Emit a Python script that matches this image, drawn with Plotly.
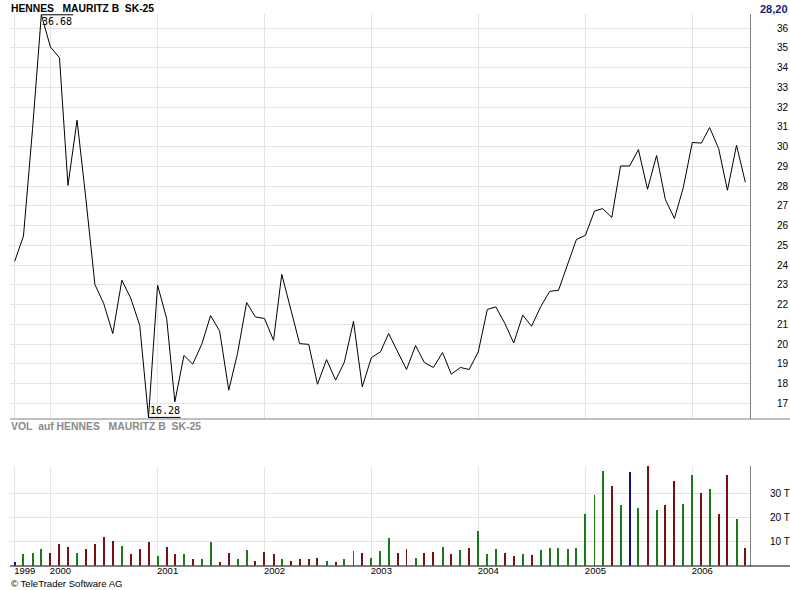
import plotly.graph_objects as go
import pandas as pd

# ---------------- data ----------------
start_month = "1999-09-01"
n_months = 83
price = [24.19, 25.47, 30.9, 36.68, 35.05, 34.5, 28.04, 31.34, 27.38, 23.01,
         22.05, 20.53, 23.23, 22.33, 20.95, 16.28, 22.98, 21.29, 17.07, 19.42,
         18.98, 19.99, 21.44, 20.65, 17.66, 19.52, 22.10, 21.37, 21.29, 20.19,
         23.53, 21.71, 20.02, 19.98, 17.96, 19.21, 18.17, 19.09, 21.15, 17.83,
         19.31, 19.60, 20.53, 19.60, 18.71, 19.92, 19.06, 18.81, 19.57, 18.47,
         18.81, 18.71, 19.60, 21.75, 21.88, 21.04, 20.05, 21.46, 20.90, 21.88,
         22.67, 22.72, 23.99, 25.29, 25.51, 26.74, 26.86, 26.41, 29.02, 29.02,
         29.85, 27.84, 29.55, 27.32, 26.36, 27.91, 30.21, 30.18, 30.97, 29.90,
         27.79, 30.07, 28.20]
volume_t = [1.4, 4.6, 5.0, 6.7, 5.0, 8.75, 7.6, 5.3, 6.7, 8.75,
            11.7, 10.0, 8.1, 4.6, 6.7, 9.7, 3.9, 7.5, 4.6, 4.6,
            2.9, 2.9, 9.6, 1.25, 5.0, 2.5, 6.4, 1.7, 5.4, 4.6,
            2.9, 1.7, 2.9, 2.9, 3.3, 1.7, 1.25, 2.5, 5.8, 5.0,
            3.3, 5.8, 11.25, 5.3, 6.7, 3.3, 5.0, 5.4, 7.5, 4.6,
            6.25, 7.1, 14.2, 4.6, 6.7, 5.0, 3.75, 4.6, 4.2, 6.25,
            7.1, 7.1, 6.7, 7.1, 21.25, 29.2, 39.2, 32.9, 25.0, 38.75,
            23.75, 41.25, 22.9, 25.0, 35.0, 25.4, 37.5, 30.0, 31.7, 21.25,
            37.5, 19.2, 7.1]
x_tick_dates = ["1999-09-01", "2000-01-01", "2001-01-01", "2002-01-01",
                "2003-01-01", "2004-01-01", "2005-01-01", "2006-01-01"]
x_tick_labels = ["1999", "2000", "2001", "2002", "2003", "2004", "2005", "2006"]
price_ticks = list(range(17, 37))
vol_ticks = [10, 20, 30]
vol_tick_labels = ["10 T", "20 T", "30 T"]
title_text = "HENNES\u00a0\u00a0 MAURITZ B\u00a0 SK-25"
vol_title_text = "VOL\u00a0 auf HENNES\u00a0\u00a0 MAURITZ B\u00a0 SK-25"
last_text = "28,20"
copyright_text = "\u00a9 TeleTrader Software AG"

dates = pd.date_range(start_month, periods=n_months, freq="MS")

# ---------------- styling ----------------
W, H = 790, 590
def px_x(p):
    return p / W
def px_y(p):
    return 1 - p / H

GREEN, RED, BLUE = "#1a7a1a", "#7a1010", "#101080"
colors = []
for i, v in enumerate(price):
    if i == 0 or v == price[i - 1]:
        colors.append(BLUE)
    elif v > price[i - 1]:
        colors.append(GREEN)
    else:
        colors.append(RED)

GRID = "#e4e4e4"
FONT = "Liberation Sans, Arial, sans-serif"

i_max = price.index(max(price))
i_min = price.index(min(price))

fig = go.Figure()
fig.add_trace(go.Scatter(x=dates, y=price, mode="lines",
                         line=dict(color="black", width=1),
                         xaxis="x", yaxis="y", hoverinfo="skip"))
fig.add_trace(go.Bar(x=dates, y=volume_t, marker=dict(color=colors, line=dict(width=0)),
                     width=2.95e8, xaxis="x2", yaxis="y2", hoverinfo="skip"))

xdom = [px_x(10), px_x(750)]
xrange = ["1999-08-16", "2006-07-17"]

fig.update_layout(
    width=W, height=H, margin=dict(l=0, r=0, t=0, b=0),
    paper_bgcolor="white", plot_bgcolor="white", showlegend=False,
    bargap=0,
    xaxis=dict(domain=xdom, range=xrange, type="date", anchor="y",
               tickvals=x_tick_dates, showticklabels=False, ticks="",
               showgrid=True, gridcolor=GRID, gridwidth=1, zeroline=False,
               showline=False),
    yaxis=dict(domain=[px_y(419), px_y(14)], range=[16.2, 36.72], side="right",
               anchor="x", tickvals=price_ticks, ticks="", showgrid=True,
               gridcolor=GRID, zeroline=False, showline=True, linecolor="#808080",
               linewidth=1, ticklabelstandoff=24,
               tickfont=dict(family=FONT, size=10, color="black")),
    xaxis2=dict(domain=xdom, range=xrange, type="date", anchor="y2", matches="x",
                tickvals=x_tick_dates, ticktext=x_tick_labels, ticks="",
                showgrid=True, gridcolor=GRID, zeroline=False, showline=False,
                ticklabelshift=10, ticklabelstandoff=-2,
                tickfont=dict(family=FONT, size=9.5, color="black")),
    yaxis2=dict(domain=[px_y(565.5), px_y(466)], range=[0, 41.2], side="right",
                anchor="x2", tickvals=vol_ticks, ticktext=vol_tick_labels, ticks="",
                showgrid=True, gridcolor=GRID, zeroline=False, showline=True,
                linecolor="#808080", linewidth=1, ticklabelstandoff=17,
                tickfont=dict(family=FONT, size=10, color="black")),
)

shapes = [
    dict(type="line", xref="paper", yref="paper", x0=px_x(10), x1=1,
         y0=px_y(419), y1=px_y(419), line=dict(color="#808080", width=1)),
    dict(type="line", xref="paper", yref="paper", x0=px_x(10), x1=1,
         y0=px_y(566), y1=px_y(566), line=dict(color="black", width=1)),
    dict(type="line", xref="x", yref="y", xsizemode="pixel", xanchor=dates[i_max],
         x0=0, x1=32, y0=price[i_max], y1=price[i_max], line=dict(color="black", width=1)),
    dict(type="line", xref="x", yref="y", xsizemode="pixel", xanchor=dates[i_min],
         x0=0, x1=32, y0=price[i_min], y1=price[i_min], line=dict(color="black", width=1)),
]
fig.update_layout(shapes=shapes)

ann = [
    dict(text=title_text, xref="paper", yref="paper", x=px_x(9), y=px_y(1),
         xanchor="left", yanchor="top", showarrow=False,
         font=dict(family=FONT, size=10.3, color="black", weight="bold")),
    dict(text=last_text, xref="paper", yref="paper", x=1, y=px_y(1),
         xanchor="right", yanchor="top", showarrow=False,
         font=dict(family=FONT, size=11, color="#1c1c6e", weight="bold")),
    dict(text=vol_title_text, xref="paper", yref="paper", x=px_x(9), y=px_y(419.5),
         xanchor="left", yanchor="top", showarrow=False,
         font=dict(family=FONT, size=10.4, color="#8a8a8a", weight="bold")),
    dict(text=copyright_text, xref="paper", yref="paper", x=px_x(9), y=px_y(576),
         xanchor="left", yanchor="top", showarrow=False,
         font=dict(family=FONT, size=9.6, color="black")),
    dict(text=f"{price[i_max]:.2f}", xref="x", yref="y", x=dates[i_max], y=price[i_max],
         xanchor="left", yanchor="top", showarrow=False, borderpad=0,
         font=dict(family="DejaVu Sans Mono, monospace", size=10, color="black")),
    dict(text=f"{price[i_min]:.2f}", xref="x", yref="y", x=dates[i_min], y=price[i_min],
         xanchor="left", yanchor="bottom", showarrow=False, borderpad=0,
         font=dict(family="DejaVu Sans Mono, monospace", size=10, color="black")),
]
fig.update_layout(annotations=ann)

fig.write_html("out.html", config={"displayModeBar": False},
               post_script="document.body.style.margin='0';document.body.style.overflow='hidden';")
